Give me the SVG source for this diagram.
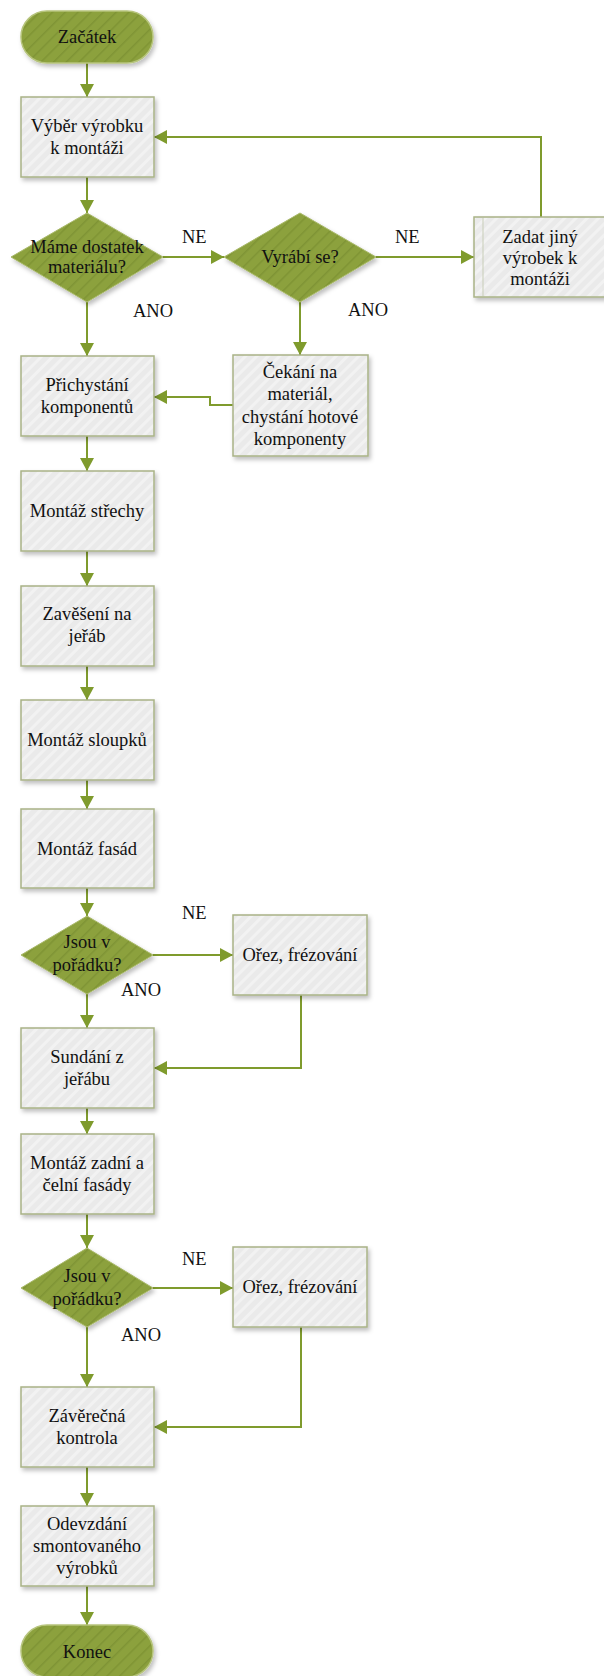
<svg xmlns="http://www.w3.org/2000/svg" width="604" height="1676" viewBox="0 0 604 1676" font-family="Liberation Serif, Times New Roman, serif">
<style>
.box{fill:url(#boxHatch);stroke:#a9b386;stroke-width:1.5;filter:url(#shadow)}
.dec{fill:url(#greenHatch);stroke:#a9b96a;stroke-width:1;filter:url(#shadow)}
.term{fill:url(#greenHatch);stroke:#b6c47c;stroke-width:1.5;filter:url(#shadow)}
.nt{font-family:"Liberation Serif","Times New Roman",serif;font-size:18.5px;fill:#111;text-anchor:middle}
.lbl{font-family:"Liberation Serif","Times New Roman",serif;font-size:18.5px;fill:#111}
.c{fill:none;stroke:#7f9b2d;stroke-width:2;marker-end:url(#arr)}
</style>
<defs>
<pattern id="boxHatch" width="8" height="8" patternUnits="userSpaceOnUse" patternTransform="rotate(45)">
<rect width="8" height="8" fill="#eaeaea"/>
<rect width="3" height="8" fill="#f2f2f2"/>
</pattern>
<pattern id="greenHatch" width="9" height="9" patternUnits="userSpaceOnUse" patternTransform="rotate(45)">
<rect width="9" height="9" fill="#8ca13e"/>
<rect width="1.5" height="9" fill="#7f9434"/>
</pattern>
<filter id="shadow" x="-10%" y="-10%" width="130%" height="130%">
<feDropShadow dx="2" dy="3" stdDeviation="2" flood-color="#000" flood-opacity="0.25"/>
</filter>
<marker id="arr" markerUnits="userSpaceOnUse" markerWidth="14" markerHeight="14" refX="13" refY="7" orient="auto">
<path d="M0,0 L13,7 L0,14 z" fill="#7f9b2d"/>
</marker>
</defs>

<g id="connectors">
<path class="c" d="M87,63 V97"/>
<path class="c" d="M87,177 V213"/>
<path class="c" d="M163,257 H224"/>
<path class="c" d="M376,257 H474"/>
<path class="c" d="M541,217 V137 H154"/>
<path class="c" d="M87,302 V356"/>
<path class="c" d="M300,302 V355"/>
<path class="c" d="M233,405 H210 V397 H154"/>
<path class="c" d="M87,436 V471"/>
<path class="c" d="M87,551 V586"/>
<path class="c" d="M87,666 V700"/>
<path class="c" d="M87,780 V809"/>
<path class="c" d="M87,888 V916"/>
<path class="c" d="M153,955 H233"/>
<path class="c" d="M87,994 V1028"/>
<path class="c" d="M301,995 V1068 H154"/>
<path class="c" d="M87,1108 V1134"/>
<path class="c" d="M87,1214 V1248"/>
<path class="c" d="M153,1288 H233"/>
<path class="c" d="M87,1327 V1387"/>
<path class="c" d="M301,1327 V1427 H154"/>
<path class="c" d="M87,1467 V1506"/>
<path class="c" d="M87,1586 V1625"/>
<text class="lbl" x="182" y="243">NE</text>
<text class="lbl" x="133" y="317">ANO</text>
<text class="lbl" x="395" y="243">NE</text>
<text class="lbl" x="348" y="316">ANO</text>
<text class="lbl" x="182" y="919">NE</text>
<text class="lbl" x="121" y="996">ANO</text>
<text class="lbl" x="182" y="1265">NE</text>
<text class="lbl" x="121" y="1341">ANO</text>
</g>

<g id="start">
<rect class="term" x="21" y="11" width="132" height="52" rx="26"/>
<text class="nt" x="87" y="43">Začátek</text>
</g>
<g id="vyber">
<rect class="box" x="21" y="97" width="133" height="80"/>
<text class="nt" x="87" y="132">Výběr výrobku</text>
<text class="nt" x="87" y="154">k montáži</text>
</g>
<g id="dostatek">
<polygon class="dec" points="11,257 87,213 163,257 87,302"/>
<text class="nt" x="87" y="253" font-size="17">Máme dostatek</text>
<text class="nt" x="87" y="273" font-size="17">materiálu?</text>
</g>
<g id="vyrabi">
<polygon class="dec" points="224,257 300,213 376,257 300,302"/>
<text class="nt" x="300" y="263">Vyrábí se?</text>
</g>
<g id="zadat">
<rect class="box" x="474" y="217" width="133" height="80"/>
<line x1="483" y1="218" x2="483" y2="296" stroke="#c8cdb8" stroke-width="1"/>
<text class="nt" x="540" y="243">Zadat  jiný</text>
<text class="nt" x="540" y="264">výrobek  k</text>
<text class="nt" x="540" y="285">montáži</text>
</g>
<g id="cekani">
<rect class="box" x="233" y="355" width="135" height="101"/>
<text class="nt" x="300" y="378">Čekání na</text>
<text class="nt" x="300" y="400">materiál,</text>
<text class="nt" x="300" y="423">chystání  hotové</text>
<text class="nt" x="300" y="445">komponenty</text>
</g>
<g id="prichystani">
<rect class="box" x="21" y="356" width="133" height="80"/>
<text class="nt" x="87" y="391">Přichystání</text>
<text class="nt" x="87" y="413">komponentů</text>
</g>
<g id="strechy">
<rect class="box" x="21" y="471" width="133" height="80"/>
<text class="nt" x="87" y="517">Montáž střechy</text>
</g>
<g id="zaveseni">
<rect class="box" x="21" y="586" width="133" height="80"/>
<text class="nt" x="87" y="620">Zavěšení na</text>
<text class="nt" x="87" y="642">jeřáb</text>
</g>
<g id="sloupku">
<rect class="box" x="21" y="700" width="133" height="80"/>
<text class="nt" x="87" y="746">Montáž sloupků</text>
</g>
<g id="fasad">
<rect class="box" x="21" y="809" width="133" height="79"/>
<text class="nt" x="87" y="855">Montáž fasád</text>
</g>
<g id="poradku1">
<polygon class="dec" points="21,955 87,916 153,955 87,994"/>
<text class="nt" x="87" y="948">Jsou v</text>
<text class="nt" x="87" y="971">pořádku?</text>
</g>
<g id="orez1">
<rect class="box" x="233" y="915" width="134" height="80"/>
<text class="nt" x="300" y="961">Ořez, frézování</text>
</g>
<g id="sundani">
<rect class="box" x="21" y="1028" width="133" height="80"/>
<text class="nt" x="87" y="1063">Sundání z</text>
<text class="nt" x="87" y="1085">jeřábu</text>
</g>
<g id="zadni">
<rect class="box" x="21" y="1134" width="133" height="80"/>
<text class="nt" x="87" y="1169">Montáž zadní a</text>
<text class="nt" x="87" y="1191">čelní fasády</text>
</g>
<g id="poradku2">
<polygon class="dec" points="21,1288 87,1248 153,1288 87,1327"/>
<text class="nt" x="87" y="1282">Jsou v</text>
<text class="nt" x="87" y="1305">pořádku?</text>
</g>
<g id="orez2">
<rect class="box" x="233" y="1247" width="134" height="80"/>
<text class="nt" x="300" y="1293">Ořez, frézování</text>
</g>
<g id="zaverecna">
<rect class="box" x="21" y="1387" width="133" height="80"/>
<text class="nt" x="87" y="1422">Závěrečná</text>
<text class="nt" x="87" y="1444">kontrola</text>
</g>
<g id="odevzdani">
<rect class="box" x="21" y="1506" width="133" height="80"/>
<text class="nt" x="87" y="1530">Odevzdání</text>
<text class="nt" x="87" y="1552">smontovaného</text>
<text class="nt" x="87" y="1574">výrobků</text>
</g>
<g id="konec">
<rect class="term" x="21" y="1625" width="132" height="52" rx="26"/>
<text class="nt" x="87" y="1658">Konec</text>
</g>
</svg>
